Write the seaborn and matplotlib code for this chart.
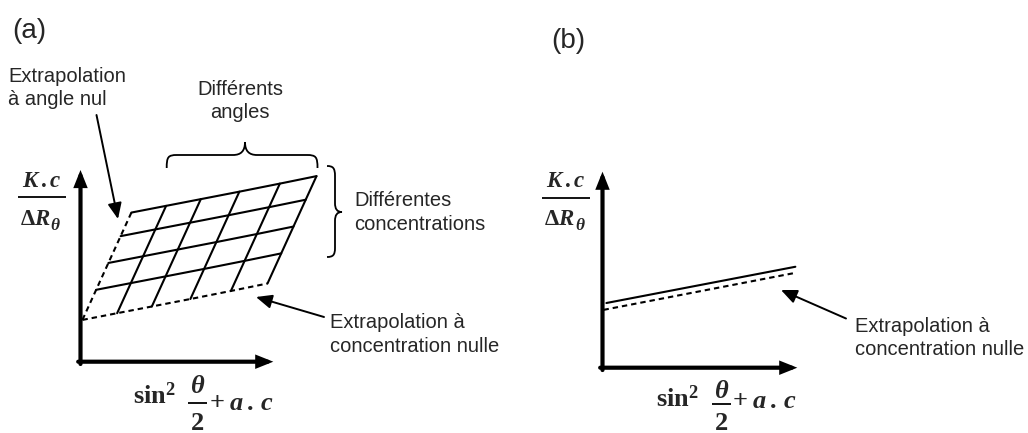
import numpy as np
import pandas as pd
import matplotlib
matplotlib.use("Agg")
import matplotlib.pyplot as plt
import seaborn as sns
from matplotlib.path import Path
from matplotlib.patches import PathPatch

# ---------------- data ----------------
# Panel (a): Zimm grid
sin2_half_theta = [0.01, 0.19, 0.37, 0.57, 0.78, 0.97]   # first = extrapolation to zero angle
concentrations = [0.0, 0.28, 0.53, 0.78, 1.0]            # first = extrapolation to zero concentration
a_const = 0.254
kc_over_r = [
    [0.218, 0.253, 0.288, 0.327, 0.369, 0.408],
    [0.375, 0.410, 0.445, 0.484, 0.526, 0.565],
    [0.515, 0.550, 0.585, 0.624, 0.666, 0.705],
    [0.655, 0.690, 0.725, 0.764, 0.806, 0.845],
    [0.778, 0.813, 0.848, 0.887, 0.929, 0.968],
]

# Panel (b): measured line and extrapolation
b_solid_x = [0.02, 0.99]
b_solid_y = [0.33, 0.515]
b_dashed_x = [0.005, 0.98]
b_dashed_y = [0.295, 0.482]

# ---------------- style ----------------
sns.set_theme(style="white")
plt.rcParams["font.family"] = ["Liberation Sans", "DejaVu Sans"]
plt.rcParams["mathtext.fontset"] = "custom"
plt.rcParams["mathtext.rm"] = "Liberation Serif:bold"
plt.rcParams["mathtext.bf"] = "Liberation Serif:bold"
plt.rcParams["mathtext.it"] = "Liberation Serif:bold:italic"
plt.rcParams["mathtext.fallback"] = "stix"

W, H = 1028, 433
fig = plt.figure(figsize=(W / 100, H / 100), dpi=100)

def px_axes(ox, oy, xu, yu, xlim, ylim):
    left = (ox + xlim[0] * xu) / W
    bottom = (H - oy + ylim[0] * yu) / H
    width = (xlim[1] - xlim[0]) * xu / W
    height = (ylim[1] - ylim[0]) * yu / H
    ax = fig.add_axes([left, bottom, width, height])
    ax.set_xlim(*xlim)
    ax.set_ylim(*ylim)
    ax.axis("off")
    return ax

xlim = (-0.05, 1.35)
ylim = (-0.05, 1.05)
ax_a = px_axes(80.5, 361.7, 192.8, 191.7, xlim, ylim)
ax_b = px_axes(602.5, 367.7, 194.8, 196.0, xlim, ylim)

# ---- build grid dataframe for (a) ----
rows = []
for i, c in enumerate(concentrations):
    kind = "dashed" if i == 0 else "solid"
    for j, s in enumerate(sin2_half_theta):
        rows.append(dict(x=s + a_const * c, y=kc_over_r[i][j], line=f"c{i}", kind=kind))
for j, s in enumerate(sin2_half_theta):
    kind = "dashed" if j == 0 else "solid"
    for i, c in enumerate(concentrations):
        rows.append(dict(x=s + a_const * c, y=kc_over_r[i][j], line=f"s{j}", kind=kind))
df_a = pd.DataFrame(rows)

dash_map = {"solid": "", "dashed": (2.6, 1.9)}
sns.lineplot(data=df_a, x="x", y="y", units="line", estimator=None, style="kind",
             dashes=dash_map, sort=False, color="black", lw=1.5, legend=False, ax=ax_a)

df_b = pd.DataFrame(dict(
    x=b_solid_x + b_dashed_x,
    y=b_solid_y + b_dashed_y,
    line=["solid"] * 2 + ["dashed"] * 2,
    kind=["solid"] * 2 + ["dashed"] * 2,
))
sns.lineplot(data=df_b, x="x", y="y", units="line", estimator=None, style="kind",
             dashes=dash_map, sort=False, color="black", lw=1.5, legend=False, ax=ax_b)

# ---- thick axis arrows ----
axis_arrow = dict(arrowstyle="-|>,head_length=0.75,head_width=0.3", lw=3.0, color="black",
                  mutation_scale=10, shrinkA=0, shrinkB=0, joinstyle="miter")
for ax in (ax_a, ax_b):
    ax.annotate("", xy=(1.0, 0), xytext=(-0.012, 0), arrowprops=axis_arrow, annotation_clip=False)
    ax.annotate("", xy=(0, 1.0), xytext=(0, -0.012), arrowprops=axis_arrow, annotation_clip=False)

# ---- overlay for annotations (pixel coords) ----
ann = fig.add_axes([0, 0, 1, 1])
ann.set_xlim(0, W)
ann.set_ylim(H, 0)
ann.axis("off")
ann.patch.set_alpha(0)

fs = 14.5
def lines(x, baselines, texts, ha="left"):
    for b, t in zip(baselines, texts):
        ann.text(x, b, t, fontsize=fs, ha=ha, va="baseline")

ann.text(12, 31.5, "(a)", fontsize=20, ha="left", va="center")
ann.text(551, 41, "(b)", fontsize=20, ha="left", va="center")
lines(8, [81.5, 105], ["Extrapolation", "à angle nul"])
lines(240, [95, 118.3], ["Différents", "angles"], ha="center")
lines(354, [205.5, 229.5], ["Différentes", "concentrations"])
lines(330, [328.5, 352.5], ["Extrapolation à", "concentration nulle"])
lines(855, [331.5, 355], ["Extrapolation à", "concentration nulle"])

# ---- math axis labels (built as num / bar / den) ----
def y_label(cx, y_num, y_bar, y_den, half=24, size=16.5):
    ann.text(cx, y_num, r"$K\,.c$", fontsize=size, ha="center", va="baseline")
    ann.plot([cx - half, cx + half], [y_bar, y_bar], color="black", lw=1.3, solid_capstyle="butt")
    ann.text(cx + 9, y_den, r"$\mathrm{\Delta}R$", fontsize=size, ha="right", va="baseline")
    ann.text(cx + 9, y_den + 4.5, r"$\theta$", fontsize=12.5, ha="left", va="baseline")

y_label(41.5, 187, 197, 225)
y_label(566, 186.7, 198.3, 225)

def x_label(x_sin, base_sin, cx_frac, y_num, y_bar, y_den, x_plus, base_plus, size=19):
    ann.text(x_sin, base_sin, r"$\mathrm{sin}^{2}$", fontsize=size, ha="left", va="baseline")
    ann.text(cx_frac, y_num, r"$\theta$", fontsize=size, ha="center", va="baseline")
    ann.plot([cx_frac - 9.5, cx_frac + 9.5], [y_bar, y_bar], color="black", lw=1.3, solid_capstyle="butt")
    ann.text(cx_frac, y_den, r"$2$", fontsize=size, ha="center", va="baseline")
    ann.text(x_plus, base_plus, r"$+\;a\,.\,c$", fontsize=size, ha="left", va="baseline")

x_label(133, 404, 197.5, 393, 403, 429.5, 209, 410)
x_label(656.5, 406.5, 721.5, 398, 404.3, 429.5, 732, 408)

# pointer arrows
ptr = dict(arrowstyle="-|>,head_length=0.8,head_width=0.35", lw=1.4, color="black",
           mutation_scale=12, shrinkA=0, shrinkB=0)
ann.annotate("", xy=(118, 219), xytext=(96.5, 115), arrowprops=ptr)
ann.annotate("", xy=(256, 297), xytext=(324, 317), arrowprops=ptr)
ann.annotate("", xy=(781, 290), xytext=(846, 318.5), arrowprops=ptr)

# braces
def draw_path(verts, codes):
    ann.add_patch(PathPatch(Path(verts, codes), fill=False, lw=1.3, color="black"))

M, C, L = Path.MOVETO, Path.CURVE4, Path.LINETO
codes = [M, C, C, C, L, C, C, C, C, C, C, L, C, C, C]
top = [(166.7, 168), (166.7, 157), (168, 155), (177, 155), (233, 155),
       (241, 155), (245, 151), (245, 142), (245, 151), (249, 155), (257, 155),
       (307, 155), (316, 155), (317.5, 157), (317.5, 168)]
draw_path(top, codes)
right = [(327, 166), (333, 166), (335, 168), (335, 176), (335, 203),
         (335, 209), (337, 212), (342, 212), (337, 212), (335, 215), (335, 221),
         (335, 248), (335, 255), (333, 257), (327, 257)]
draw_path(right, codes)

fig.savefig("out.png", dpi=100)
